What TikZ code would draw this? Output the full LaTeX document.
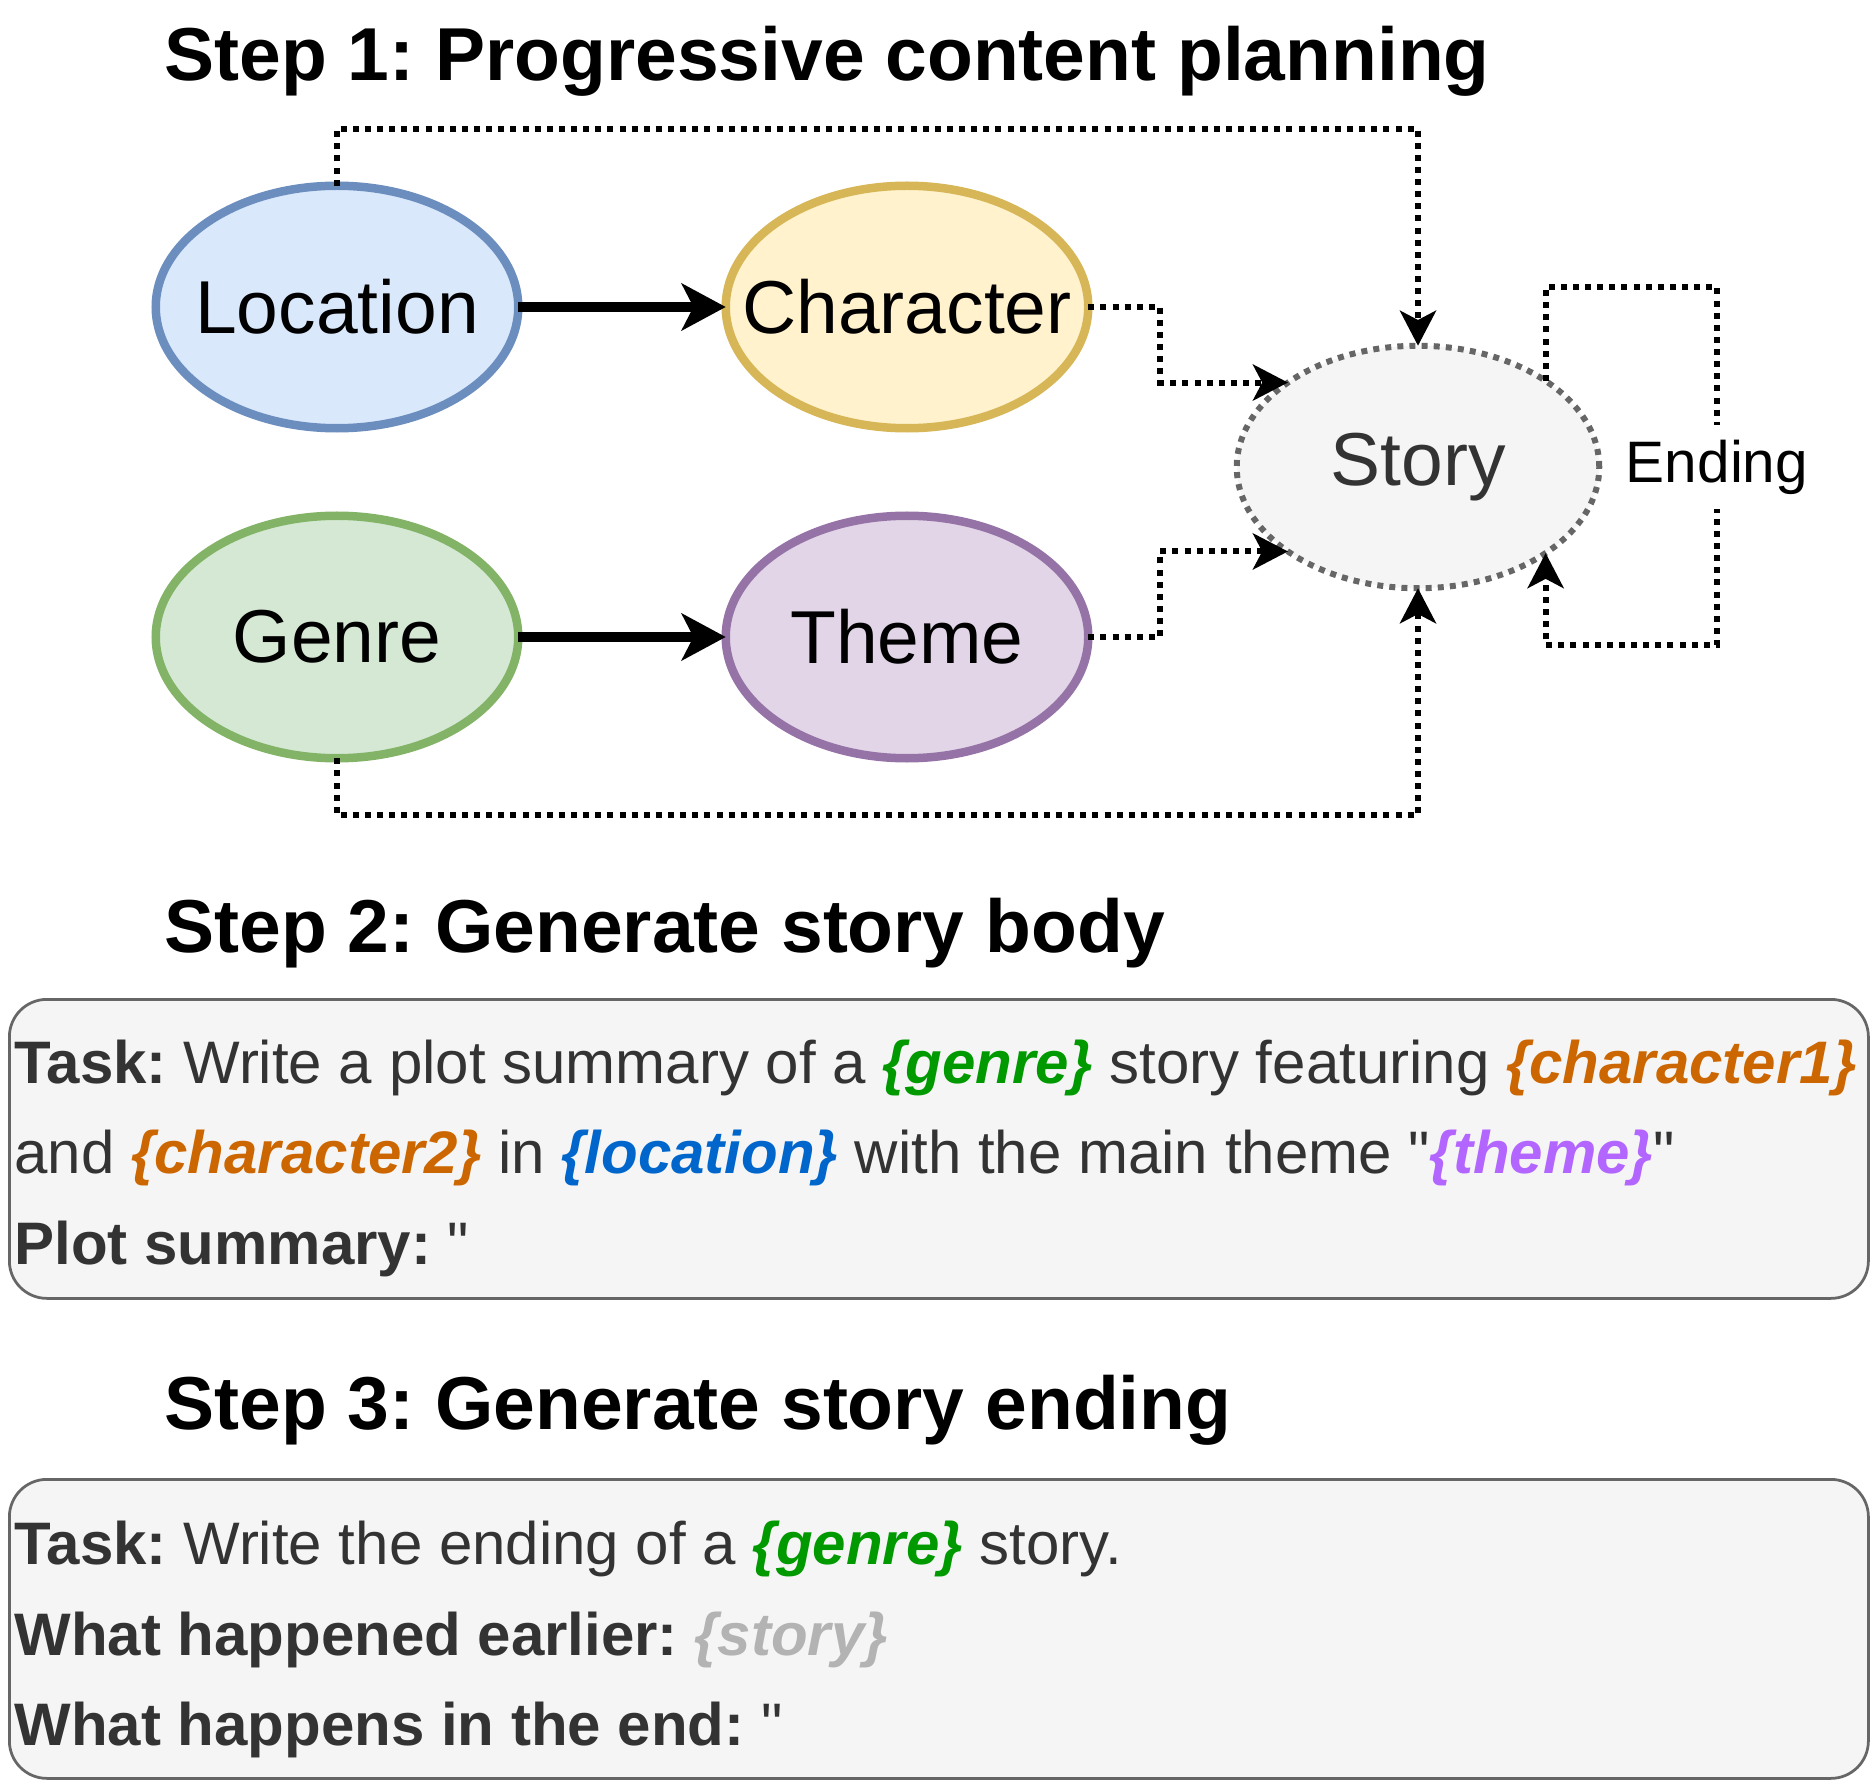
\documentclass[tikz,border=0pt]{standalone}
\usepackage{fontspec}
\setmainfont{Liberation Sans}[Ligatures=TeXOff]
\usetikzlibrary{shapes.geometric,arrows.meta}
\definecolor{locF}{HTML}{DAE8FC}\definecolor{locD}{HTML}{6C8EBF}
\definecolor{chaF}{HTML}{FFF2CC}\definecolor{chaD}{HTML}{D6B656}
\definecolor{genF}{HTML}{D5E8D4}\definecolor{genD}{HTML}{82B366}
\definecolor{theF}{HTML}{E1D5E7}\definecolor{theD}{HTML}{9673A6}
\definecolor{stoF}{HTML}{F5F5F5}\definecolor{stoD}{HTML}{666666}
\definecolor{txt}{HTML}{333333}
\definecolor{cGenre}{HTML}{009900}
\definecolor{cChar}{HTML}{CC6600}
\definecolor{cLoc}{HTML}{0066CC}
\definecolor{cTheme}{HTML}{B266FF}
\definecolor{cStory}{HTML}{B3B3B3}
\newcommand{\ph}[2]{{\color{#1}\bfseries\itshape\{#2\}}}
\frenchspacing
\begin{document}
\begin{tikzpicture}[x=0.4pt,y=-0.4pt,
  ell/.style={ellipse,line width=3.4pt,inner sep=0pt,outer sep=0pt,minimum width=145pt,minimum height=97pt,font=\fontsize{30}{36}\selectfont},
  dotline/.style={line width=2.4pt,dash pattern=on 2.4pt off 2.45pt},
  dotarrow/.style={dotline,-{Stealth[length=14pt,width=14.4pt,inset=3.7pt]}},
  solidarrow/.style={line width=3.7pt,-{Stealth[length=17.6pt,width=18.7pt,inset=4.7pt]}},
  title/.style={anchor=base west,inner sep=0pt,font=\fontsize{30}{36}\selectfont\bfseries},
  box/.style={draw=stoD,fill=stoF,line width=1.1pt,rounded corners=15pt,anchor=north west,inner sep=0pt,minimum width=743.6pt,minimum height=119.6pt},
  line/.style={anchor=base west,inner sep=0pt,text=txt,font=\fontsize{24}{28}\selectfont}]
\useasboundingbox (0,0) rectangle (1875,1785);
% Step 1
\node[title] (t1) at (164,81) {Step 1: Progressive content planning};
\node[ell,draw=locD,fill=locF] (loc) at (337,307) {\makebox[0pt]{Location}};
\node[ell,draw=chaD,fill=chaF] (cha) at (907,307) {\makebox[0pt]{Character}};
\node[ell,draw=genD,fill=genF] (gen) at (337,637) {\makebox[0pt]{Genre}};
\node[ell,draw=theD,fill=theF] (the) at (907,637) {\makebox[0pt]{Theme}};
\node[ell,draw=stoD,fill=stoF,dotline,text=txt] (sto) at (1418,467) {\makebox[0pt]{Story}};
\draw[solidarrow] (loc) -- (cha);
\draw[solidarrow] (gen) -- (the);
\draw[dotarrow] (loc.north) -- ++(0,-57) -| (sto.north);
\draw[dotarrow] (gen.south) -- ++(0,57) -| (sto.south);
\draw[dotarrow] (cha.east) -- ++(72,0) |- (sto.147);
\draw[dotarrow] (the.east) -- ++(72,0) |- (sto.213);
\coordinate (lTR) at (1717,287);
\coordinate (lBR) at (1717,645);
\draw[dotarrow] (sto.34) |- (lTR) -- (lBR) -| (sto.-34);
\node[fill=white,inner xsep=1pt,inner ysep=6pt,font=\fontsize{23.4}{28}\selectfont] (end) at (1717,467) {Ending};
% Step 2
\node[title] (t2) at (164,952) {Step 2: Generate story body};
\node[box] (b2) at (8,998) {};
\node[line] (l21) at (14,1083) {\textbf{Task:} Write a plot summary of a \ph{cGenre}{genre} story featuring \ph{cChar}{character1}};
\node[line] (l22) at (14,1173) {and \ph{cChar}{character2} in \ph{cLoc}{location} with the main theme "\ph{cTheme}{theme}"};
\node[line] (l23) at (14,1264) {\textbf{Plot summary:} "};
% Step 3
\node[title] (t3) at (164,1429) {Step 3: Generate story ending};
\node[box] (b3) at (8,1478) {};
\node[line] (l31) at (14,1564) {\textbf{Task:} Write the ending of a \ph{cGenre}{genre} story.};
\node[line] (l32) at (14,1655) {\textbf{What happened earlier:} \ph{cStory}{story}};
\node[line] (l33) at (14,1745) {\textbf{What happens in the end:} "};
\end{tikzpicture}
\end{document}
